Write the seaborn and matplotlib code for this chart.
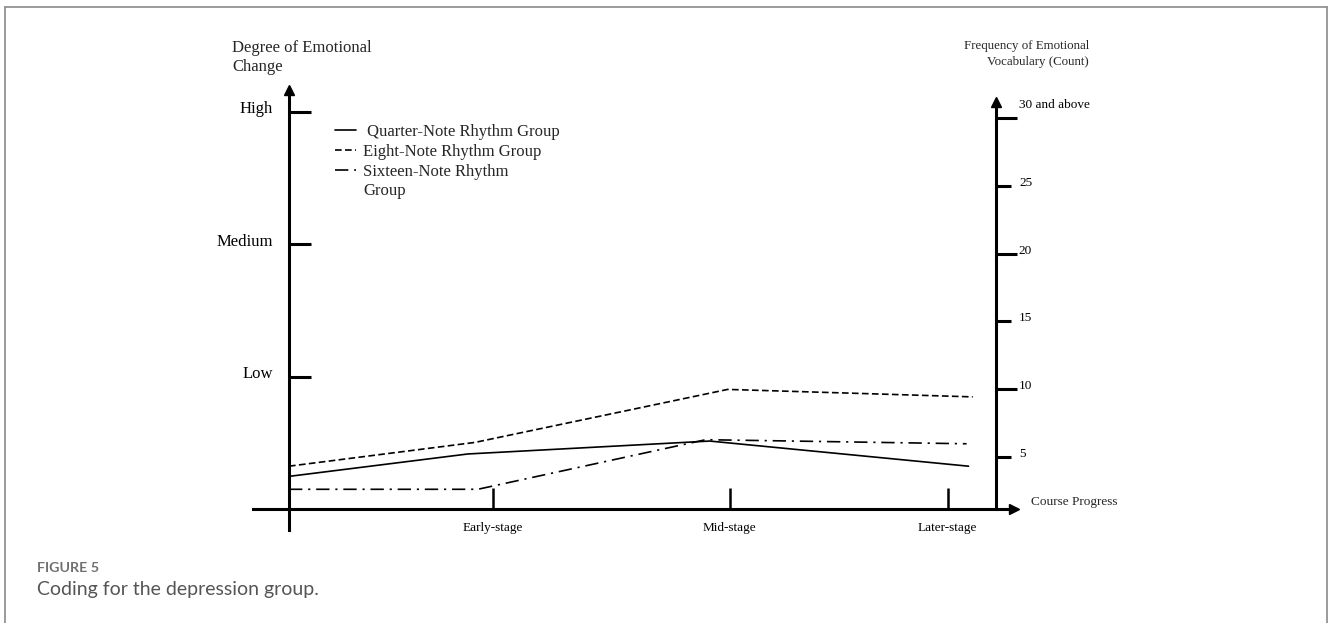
import pandas as pd
import matplotlib.pyplot as plt
import seaborn as sns
from matplotlib.lines import Line2D
from matplotlib.transforms import ScaledTranslation

# Data (x = course position, y = count scale on the right axis)
groups = ["Quarter-Note Rhythm Group", "Eight-Note Rhythm Group", "Sixteen-Note Rhythm Group"]
x_quarter = [0, 0.815, 1.916, 3.095]
y_quarter = [3.6, 5.25, 6.2, 4.35]
x_eight = [0, 0.847, 1.998, 3.114]
y_eight = [4.35, 6.1, 10.0, 9.45]
x_sixteen = [0, 0.86, 1.898, 3.086]
y_sixteen = [2.65, 2.65, 6.3, 6.0]

legend_labels = [" Quarter-Note Rhythm Group", "Eight-Note Rhythm Group", "Sixteen-Note Rhythm"]
stage_pos = [0.929, 2.007, 3.0]
stage_labels = ["Early-stage", "Mid-stage", "Later-stage"]
degree_ticks = [1, 2, 3]
degree_labels = ["Low", "Medium", "High"]
count_major = [10, 20, 30]
count_major_labels = ["10", "20", "30 and above"]
count_minor = [5, 15, 25]
count_minor_labels = ["5", "15", "25"]

df = pd.DataFrame({
    "x": x_quarter + x_eight + x_sixteen,
    "count": y_quarter + y_eight + y_sixteen,
    "group": [groups[0]] * 4 + [groups[1]] * 4 + [groups[2]] * 4,
})

sns.set_style("white")
plt.rcParams["font.family"] = ["Liberation Serif", "DejaVu Serif"]

W, H = 1328, 623
def fx(px):
    return px / W
def fy(py):
    return 1 - py / H

fig = plt.figure(figsize=(W / 100, H / 100), dpi=100)
ax = fig.add_axes([fx(289), fy(509), (996 - 289) / W, (509 - 85) / H])
ax.set_xlim(0, 3.22)
ax.set_ylim(0, 3.2)
ax.patch.set_alpha(0)
ax2 = ax.twinx()
ax2.set_ylim(1.2, 32.4)

# lines
sns.lineplot(data=df, x="x", y="count", style="group", style_order=groups,
             dashes={groups[0]: "", groups[1]: (4, 2), groups[2]: (8, 3.5, 1.3, 3.5)},
             color="black", linewidth=1.2, sort=False, estimator=None,
             legend=False, ax=ax2)
ax2.set_xlabel("")
ax2.set_ylabel("")
ax.set_xlabel("")

ax2.legend(ax2.get_lines()[:3], legend_labels, loc="upper left",
           bbox_to_anchor=(fx(335), fy(123.5)), bbox_transform=fig.transFigure,
           frameon=False, fontsize=12, borderpad=0, borderaxespad=0,
           handlelength=1.25, handletextpad=0.45, labelspacing=0.24)
fig.text(fx(363), fy(191), "Group", fontsize=12, ha="left", va="center")

# spines
for s in ["top", "right"]:
    ax.spines[s].set_visible(False)
for s in ["top", "left", "bottom"]:
    ax2.spines[s].set_visible(False)
for sp in [ax.spines["left"], ax.spines["bottom"], ax2.spines["right"]]:
    sp.set_linewidth(2.2)
    sp.set_color("black")
ax.spines["left"].set_bounds(-0.158, 3.13)
ax.spines["bottom"].set_bounds(-0.164, 3.28)
ax2.spines["right"].set_bounds(1.2, 31.0)

# arrow heads
ax.plot([0], [3.165], marker="^", ms=7, color="black", clip_on=False)
ax.plot([3.30], [0], marker=">", ms=7, color="black", clip_on=False)
ax2.plot([3.22], [31.15], marker="^", ms=7, color="black", clip_on=False)

# ticks
ax.set_xticks(stage_pos, stage_labels)
ax.tick_params(axis="x", bottom=True, direction="in", length=15, width=1.8, pad=9.5,
               labelsize=9.5, colors="black")
ax.set_yticks(degree_ticks, degree_labels)
ax.tick_params(axis="y", left=True, direction="in", length=15.8, width=2.2, pad=11.5,
               labelsize=12, colors="black")
ax2.set_yticks(count_major, count_major_labels)
ax2.set_yticks(count_minor, count_minor_labels, minor=True)
ax2.tick_params(axis="y", which="major", right=True, direction="out", length=15, width=2.2,
                pad=1.5, labelsize=9.5, colors="black")
ax2.tick_params(axis="y", which="minor", right=True, direction="out", length=10.8, width=2.2,
                pad=5.8, labelsize=9.5, colors="black")

# axis titles
fig.text(fx(232), fy(40), "Degree of Emotional\nChange", fontsize=12,
         ha="left", va="top", linespacing=1.25)
fig.text(fx(1089), fy(40), "Frequency of Emotional\nVocabulary (Count)", fontsize=9.3,
         ha="right", va="top", multialignment="right", linespacing=1.4)
fig.text(fx(1031), fy(502), "Course Progress", fontsize=9.5, ha="left", va="center")

# caption
fig.text(fx(37), fy(568), "FIGURE 5", fontsize=10.3, family="Lato", weight="bold",
         color="#707070", ha="left", va="center")
fig.text(fx(37), fy(590), "Coding for the depression group.", fontsize=14, family="Lato",
         color="#555555", ha="left", va="center")

# frame
frame_kw = dict(transform=fig.transFigure, color="#8a8a8a", linewidth=1.2)
fig.add_artist(Line2D([fx(4.5), fx(4.5)], [fy(7), 0], **frame_kw))
fig.add_artist(Line2D([fx(4.5), fx(1326.5)], [fy(7), fy(7)], **frame_kw))
fig.add_artist(Line2D([fx(1326.5), fx(1326.5)], [fy(7), 0], **frame_kw))

# nudge y tick labels up a little, like the original
up = ScaledTranslation(0, 0.045, fig.dpi_scale_trans)
for lbl in ax.get_yticklabels() + ax2.get_yticklabels() + ax2.get_yticklabels(minor=True):
    lbl.set_transform(lbl.get_transform() + up)
for lbl in ax2.get_yticklabels():
    if lbl.get_text() == "30 and above":
        lbl.set_transform(lbl.get_transform() + ScaledTranslation(0, 0.1, fig.dpi_scale_trans))

fig.savefig("out.png", dpi=100)
